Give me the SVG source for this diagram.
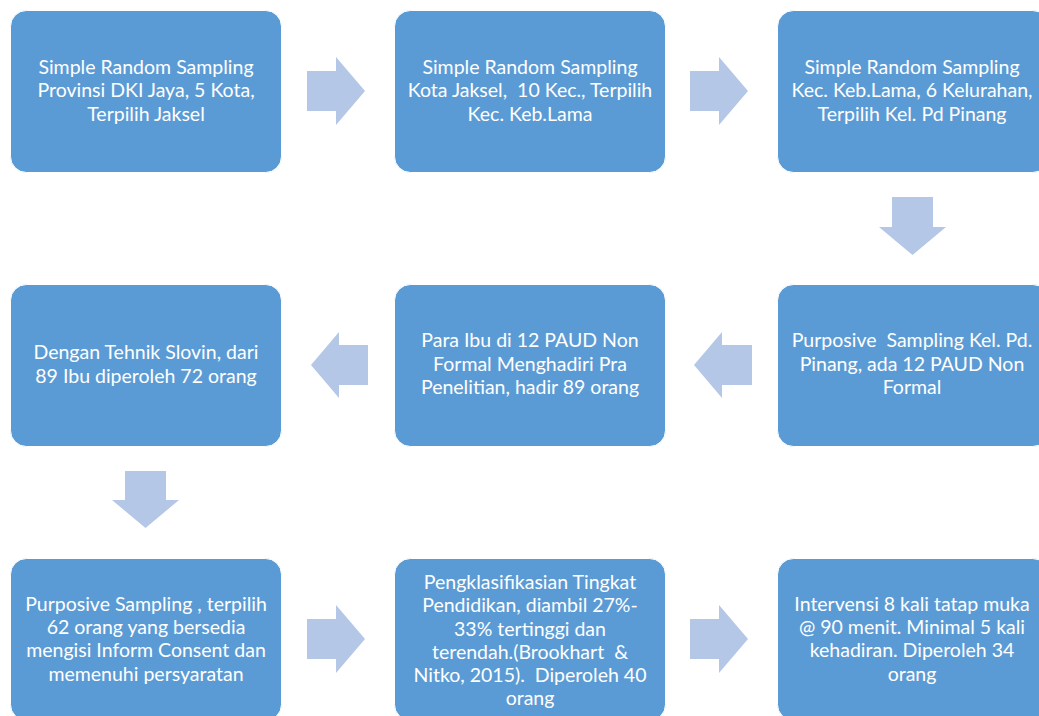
<svg xmlns="http://www.w3.org/2000/svg" width="1039" height="716" viewBox="0 0 1039 716">
<style>
.box{fill:#5B9BD5;stroke:#ffffff;stroke-width:1}
.arr{fill:#B4C7E7}
.t{font-family:Lato,"Liberation Sans",sans-serif;font-size:19.5px;fill:#ffffff;text-anchor:middle;white-space:pre}
</style>
<rect width="1039" height="716" fill="#ffffff"/>
<g id="n1"><rect class="box" x="10.5" y="10.5" width="271" height="162" rx="16"/>
<text class="t"><tspan x="146" y="74">Simple Random Sampling</tspan><tspan x="146" y="97">Provinsi DKI Jaya, 5 Kota,</tspan><tspan x="146" y="121">Terpilih Jaksel</tspan></text></g>
<g id="n2"><rect class="box" x="394.5" y="10.5" width="271" height="162" rx="16"/>
<text class="t"><tspan x="530" y="74">Simple Random Sampling</tspan><tspan x="530" y="97">Kota Jaksel,  10 Kec., Terpilih</tspan><tspan x="530" y="121">Kec. Keb.Lama</tspan></text></g>
<g id="n3"><rect class="box" x="777.5" y="10.5" width="271" height="162" rx="16"/>
<text class="t"><tspan x="912" y="74">Simple Random Sampling</tspan><tspan x="912" y="97">Kec. Keb.Lama, 6 Kelurahan,</tspan><tspan x="912" y="121">Terpilih Kel. Pd Pinang</tspan></text></g>
<g id="n4"><rect class="box" x="777.5" y="284.5" width="271" height="162" rx="16"/>
<text class="t"><tspan x="912" y="347">Purposive  Sampling Kel. Pd.</tspan><tspan x="912" y="371">Pinang, ada 12 PAUD Non</tspan><tspan x="912" y="394">Formal</tspan></text></g>
<g id="n5"><rect class="box" x="394.5" y="284.5" width="271" height="162" rx="16"/>
<text class="t"><tspan x="530" y="347">Para Ibu di 12 PAUD Non</tspan><tspan x="530" y="371">Formal Menghadiri Pra</tspan><tspan x="530" y="394">Penelitian, hadir 89 orang</tspan></text></g>
<g id="n6"><rect class="box" x="10.5" y="284.5" width="271" height="162" rx="16"/>
<text class="t"><tspan x="146" y="359">Dengan Tehnik Slovin, dari</tspan><tspan x="146" y="383">89 Ibu diperoleh 72 orang</tspan></text></g>
<g id="n7"><rect class="box" x="10.5" y="558.5" width="271" height="162" rx="16"/>
<text class="t"><tspan x="146" y="611">Purposive Sampling , terpilih</tspan><tspan x="146" y="634">62 orang yang bersedia</tspan><tspan x="146" y="657">mengisi Inform Consent dan</tspan><tspan x="146" y="681">memenuhi persyaratan</tspan></text></g>
<g id="n8"><rect class="box" x="394.5" y="558.5" width="271" height="162" rx="16"/>
<text class="t"><tspan x="530" y="589">Pengklasifikasian Tingkat</tspan><tspan x="530" y="612">Pendidikan, diambil 27%-</tspan><tspan x="530" y="636">33% tertinggi dan</tspan><tspan x="530" y="659">terendah.(Brookhart  &amp;</tspan><tspan x="530" y="682">Nitko, 2015).  Diperoleh 40</tspan><tspan x="530" y="705">orang</tspan></text></g>
<g id="n9"><rect class="box" x="777.5" y="558.5" width="271" height="162" rx="16"/>
<text class="t"><tspan x="912" y="611">Intervensi 8 kali tatap muka</tspan><tspan x="912" y="634">@ 90 menit. Minimal 5 kali</tspan><tspan x="912" y="657">kehadiran. Diperoleh 34</tspan><tspan x="912" y="681">orang</tspan></text></g>
<g id="connectors">
<polygon class="arr" points="307,71 336,71 336,57 365,91 336,125 336,111 307,111"/>
<polygon class="arr" points="690,71 719,71 719,57 748,91 719,125 719,111 690,111"/>
<polygon class="arr" points="892,197 933,197 933,227 946,227 912.5,255 879,227 892,227"/>
<polygon class="arr" points="752,345 722,345 722,332 694,365 722,398 722,385 752,385"/>
<polygon class="arr" points="368,345 339,345 339,332 311,365 339,398 339,385 368,385"/>
<polygon class="arr" points="125,471 166,471 166,500 179,500 145.5,528 112,500 125,500"/>
<polygon class="arr" points="307,619 336,619 336,605 365,639 336,673 336,659 307,659"/>
<polygon class="arr" points="690,619 719,619 719,605 748,639 719,673 719,659 690,659"/>
</g>
</svg>
